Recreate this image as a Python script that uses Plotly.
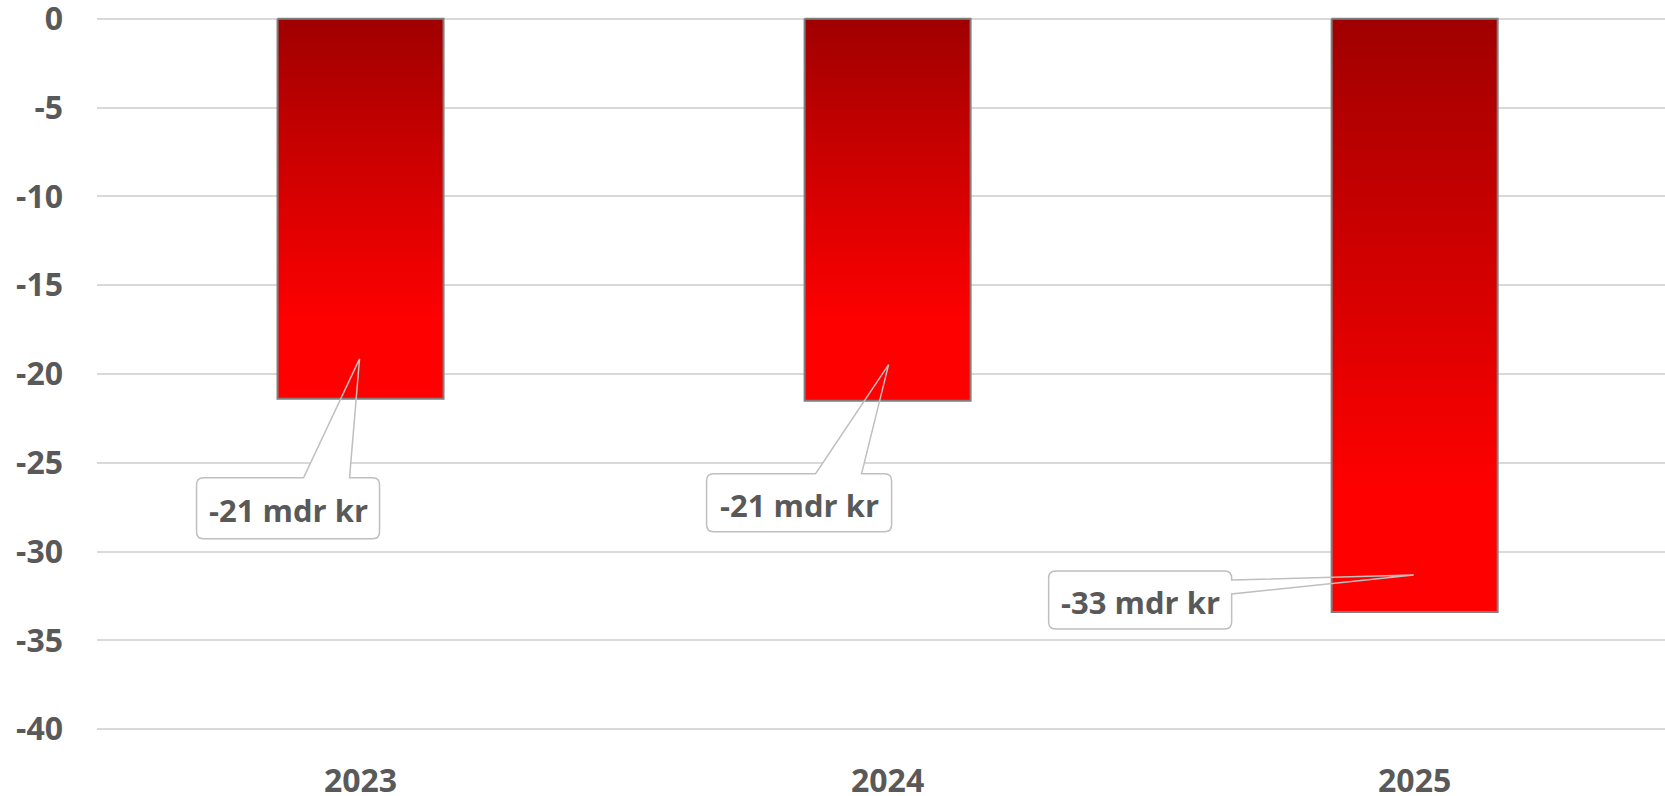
import plotly.graph_objects as go

# ---------------- data ----------------
years = ["2023", "2024", "2025"]
values = [-21.4, -21.5, -33.4]
label_texts = ["-21 mdr kr", "-21 mdr kr", "-33 mdr kr"]
y_tick_vals = [0, -5, -10, -15, -20, -25, -30, -35, -40]
y_tick_labels = ["0", "-5", "-10", "-15", "-20", "-25", "-30", "-35", "-40"]

# ---------------- style ----------------
TEXT_COLOR = "#595959"
FONT = "Open Sans"
BAR_W = 0.315
GRID = "#D9D9D9"
BAR_EDGE = "#7F7F7F"
CALLOUT_EDGE = "#BFBFBF"
GRADIENT = [[0.0, "#FF0000"], [0.2, "#FF0000"], [1.0, "#A00000"]]
RADIUS = 7
Y_PAD = 0.1

# callout geometry in pixels relative to the bar end (x to the right, y downward)
CALLOUTS = [
    dict(box=(-164, 19, 79, 140), side="top", legs=(-57, -11), tip=(-1, -40)),
    dict(box=(-181, 4, 73, 131), side="top", legs=(-72, -26), tip=(1, -36)),
    dict(box=(-366, -183, -41, 17), side="right", legs=(-32, -18), tip=(-1, -37)),
]


def P(x, y):
    return f"{x},{-y}"


def callout_path(c):
    L, Rt, T, B = c["box"]
    l1, l2 = c["legs"]
    tx, ty = c["tip"]
    r = RADIUS
    if c["side"] == "top":
        segs = [f"M{P(L + r, T)}", f"L{P(l1, T)}", f"L{P(tx, ty)}", f"L{P(l2, T)}",
                f"L{P(Rt - r, T)}", f"Q{P(Rt, T)} {P(Rt, T + r)}",
                f"L{P(Rt, B - r)}"]
    else:
        segs = [f"M{P(L + r, T)}", f"L{P(Rt - r, T)}", f"Q{P(Rt, T)} {P(Rt, T + r)}",
                f"L{P(Rt, l1)}", f"L{P(tx, ty)}", f"L{P(Rt, l2)}",
                f"L{P(Rt, B - r)}"]
    segs += [f"Q{P(Rt, B)} {P(Rt - r, B)}", f"L{P(L + r, B)}",
             f"Q{P(L, B)} {P(L, B - r)}", f"L{P(L, T + r)}",
             f"Q{P(L, T)} {P(L + r, T)}", "Z"]
    return " ".join(segs)


fig = go.Figure()

for i, v in enumerate(values):
    x0, x1 = i - BAR_W / 2, i + BAR_W / 2
    fig.add_trace(go.Scatter(
        x=[x0, x1, x1, x0, x0],
        y=[0, 0, v, v, 0],
        mode="lines",
        fill="toself",
        fillgradient=dict(type="vertical", colorscale=GRADIENT, start=v, stop=0),
        line=dict(color=BAR_EDGE, width=2),
        hoverinfo="skip",
        showlegend=False,
    ))

shapes = []
annotations = []
for i, (v, txt, c) in enumerate(zip(values, label_texts, CALLOUTS)):
    path = callout_path(c)
    common = dict(type="path", xref="x", yref="y", xsizemode="pixel", ysizemode="pixel",
                  xanchor=i, yanchor=v, path=path)
    shapes.append(dict(**common, fillcolor="white", line=dict(width=0), layer="between"))
    shapes.append(dict(**common, fillcolor="rgba(0,0,0,0)",
                       line=dict(color=CALLOUT_EDGE, width=1.5), layer="above"))
    L, Rt, T, B = c["box"]
    annotations.append(dict(
        x=i, y=v, xref="x", yref="y", showarrow=False,
        xshift=(L + Rt) / 2, yshift=-((T + B) / 2 + 2),
        xanchor="center", yanchor="middle",
        text=txt, font=dict(family=FONT, size=31, color=TEXT_COLOR, weight="bold"),
    ))

fig.update_layout(
    width=1665, height=796,
    margin=dict(l=97, r=0, t=17, b=65),
    paper_bgcolor="white", plot_bgcolor="white",
    shapes=shapes, annotations=annotations,
    font=dict(family=FONT, size=32, color=TEXT_COLOR, weight="bold"),
    xaxis=dict(
        range=[-0.5, 2.475], tickmode="array", tickvals=list(range(len(years))),
        ticktext=years, showgrid=False, zeroline=False, showline=False,
        ticks="", ticklabelstandoff=28, fixedrange=True, automargin=False,
        ticklabeloverflow="allow",
    ),
    yaxis=dict(
        range=[min(y_tick_vals) - Y_PAD, max(y_tick_vals) + Y_PAD],
        tickmode="array", tickvals=y_tick_vals, ticktext=y_tick_labels,
        showgrid=True, gridcolor=GRID, gridwidth=2, zeroline=False,
        showline=False, ticks="", ticklabelstandoff=33, fixedrange=True, automargin=False,
        ticklabeloverflow="allow",
    ),
)

fig.write_html(
    "out.html",
    config={"displayModeBar": False},
    post_script="document.body.style.margin='0';document.body.style.overflow='hidden';",
)
